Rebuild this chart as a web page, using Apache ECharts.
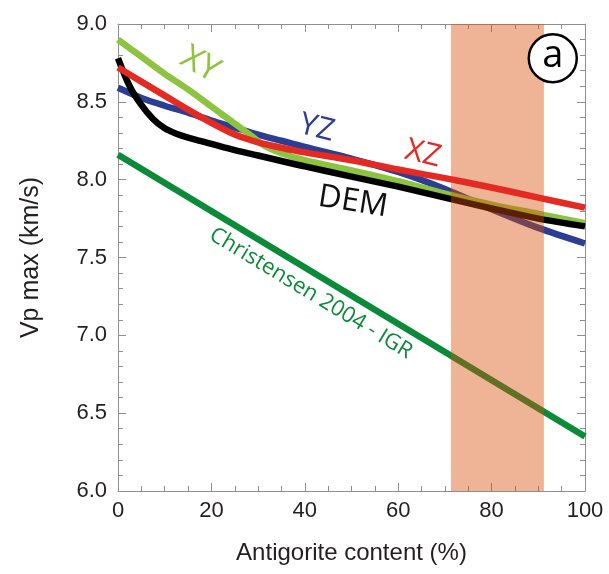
<!DOCTYPE html>
<html>
<head>
<meta charset="utf-8">
<script src="https://cdn.jsdelivr.net/npm/echarts@6/dist/echarts.min.js"></script>
<style>
html,body{margin:0;padding:0;background:#fff;}
#chart{width:609px;height:574px;}
</style>
</head>
<body>
<div id="chart"></div>
<script>
// ---- data ----
const xTicks = [0, 20, 40, 60, 80, 100];
const yTicks = [6.0, 6.5, 7.0, 7.5, 8.0, 8.5, 9.0];

const demX = [0, 2.5, 5, 7.5, 10, 12.5, 15, 20, 25, 30, 35, 40, 50, 60, 70, 80, 90, 100];
const demY = [8.78, 8.60, 8.48, 8.39, 8.33, 8.295, 8.27, 8.23, 8.19, 8.155, 8.12, 8.085, 8.02, 7.955, 7.885, 7.815, 7.75, 7.70];

const xzX = [0, 5, 10, 15, 20, 25, 30, 35, 40, 50, 60, 70, 80, 90, 100];
const xzY = [8.72, 8.63, 8.54, 8.45, 8.365, 8.29, 8.24, 8.205, 8.175, 8.125, 8.065, 8.01, 7.95, 7.885, 7.82];

const yzX = [0, 5, 10, 15, 20, 25, 30, 35, 40, 50, 60, 70, 80, 90, 100];
const yzY = [8.59, 8.525, 8.475, 8.43, 8.38, 8.335, 8.29, 8.25, 8.21, 8.135, 8.05, 7.94, 7.81, 7.69, 7.59];

const xyX = [0, 5, 10, 15, 20, 25, 28, 31, 35, 40, 50, 60, 70, 80, 90, 100];
const xyY = [8.90, 8.79, 8.68, 8.58, 8.47, 8.36, 8.295, 8.225, 8.17, 8.125, 8.06, 7.99, 7.91, 7.84, 7.78, 7.72];

const chrX = [0, 100];
const chrY = [8.16, 6.35];

const band = [71.3, 91.2];

// ---- styling / annotation placement ----
const AXIS_GREY = '#8f8f8f';
const TEXT = '#231f20';
const annotations = [
  {text: 'XY', at: [17.6, 8.74], rot: -30, color: '#8dc43f', size: 34},
  {text: 'YZ', at: [42.6, 8.33], rot: -14, color: '#2b3e93', size: 31},
  {text: 'XZ', at: [65.3, 8.165], rot: -14, color: '#e42a22', size: 31},
  {text: 'DEM', at: [50.3, 7.857], rot: -9, color: '#111111', size: 32},
  {text: 'Christensen 2004 - IGR', at: [41.3, 7.27], rot: -31.2, color: '#0b8a3a', size: 22}
];
const badgeAt = [93.1, 8.78];

function pairs(xs, ys) { return xs.map((x, i) => [x, ys[i]]); }

const chart = echarts.init(document.getElementById('chart'), null, {renderer: 'canvas'});

function xAx(pos, show) {
  return {
    type: 'value', position: pos, min: 0, max: 100, interval: 20,
    axisLine: {show: true, onZero: false, lineStyle: {color: AXIS_GREY, width: 1}},
    axisTick: {show: true, inside: true, length: 8, lineStyle: {color: AXIS_GREY}},
    minorTick: {show: true, splitNumber: 4, length: 5, lineStyle: {color: AXIS_GREY}},
    splitLine: {show: false}, minorSplitLine: {show: false},
    axisLabel: {show: show, color: TEXT, fontFamily: 'Liberation Sans', fontSize: 22, margin: 9},
    name: show ? 'Antigorite content (%)' : '',
    nameLocation: 'middle', nameGap: 50,
    nameTextStyle: {color: TEXT, fontFamily: 'Liberation Sans', fontSize: 24}
  };
}
function yAx(pos, show) {
  return {
    type: 'value', position: pos, min: 6, max: 9, interval: 0.5,
    axisLine: {show: true, onZero: false, lineStyle: {color: AXIS_GREY, width: 1}},
    axisTick: {show: true, inside: true, length: 8, lineStyle: {color: AXIS_GREY}},
    minorTick: {show: true, splitNumber: 5, length: 5, lineStyle: {color: AXIS_GREY}},
    splitLine: {show: false}, minorSplitLine: {show: false},
    axisLabel: {show: show, color: TEXT, fontFamily: 'Liberation Sans', fontSize: 22, margin: 11,
      formatter: v => v.toFixed(1)},
    name: show ? 'Vp max (km/s)' : '',
    nameLocation: 'middle', nameGap: 74, nameRotate: 90,
    nameTextStyle: {color: TEXT, fontFamily: 'Liberation Sans', fontSize: 25}
  };
}

function lineSeries(name, data, color, z) {
  return {
    name: name, type: 'line', data: data, z: z, smooth: 0.3,
    showSymbol: false, symbol: 'none', silent: true, animation: false,
    lineStyle: {color: color, width: 6.5, cap: 'butt', join: 'round'}
  };
}

chart.setOption({
  animation: false,
  backgroundColor: '#ffffff',
  grid: {left: 118, right: 24, top: 24, bottom: 83, containLabel: false},
  xAxis: [xAx('bottom', true), xAx('top', false)],
  yAxis: [yAx('left', true), yAx('right', false)],
  series: [
    lineSeries('Christensen 2004 - IGR', pairs(chrX, chrY), '#0b8a3a', 2),
    lineSeries('YZ', pairs(yzX, yzY), '#2b3e93', 2),
    lineSeries('XY', pairs(xyX, xyY), '#8dc43f', 2),
    lineSeries('DEM', pairs(demX, demY), '#000000', 2),
    {
      type: 'custom', z: 3, silent: true, animation: false,
      data: [band],
      renderItem: function (params, api) {
        const p0 = api.coord([api.value(0), 9]);
        const p1 = api.coord([api.value(1), 6]);
        return {type: 'rect', shape: {x: p0[0], y: p0[1], width: p1[0] - p0[0], height: p1[1] - p0[1]},
          style: {fill: 'rgba(217,76,2,0.42)'}};
      }
    },
    lineSeries('XZ', pairs(xzX, xzY), '#e42a22', 4)
  ]
});

// annotations placed via the chart's own coordinate conversion
const g = annotations.map(a => {
  const p = chart.convertToPixel({gridIndex: 0}, a.at);
  return {
    type: 'text', x: p[0], y: p[1], rotation: a.rot * Math.PI / 180, z: 10,
    style: {text: a.text, fill: a.color, font: a.size + 'px "Open Sans"', align: 'center', verticalAlign: 'middle'}
  };
});
const bp = chart.convertToPixel({gridIndex: 0}, badgeAt);
g.push({type: 'circle', shape: {cx: bp[0], cy: bp[1], r: 24}, style: {fill: '#ffffff', stroke: '#000000', lineWidth: 2.5}, z: 10});
g.push({type: 'text', x: bp[0], y: bp[1] - 2, z: 11,
  style: {text: 'a', fill: '#000000', font: '38px "Open Sans"', align: 'center', verticalAlign: 'middle'}});
chart.setOption({graphic: g});
</script>
</body>
</html>
